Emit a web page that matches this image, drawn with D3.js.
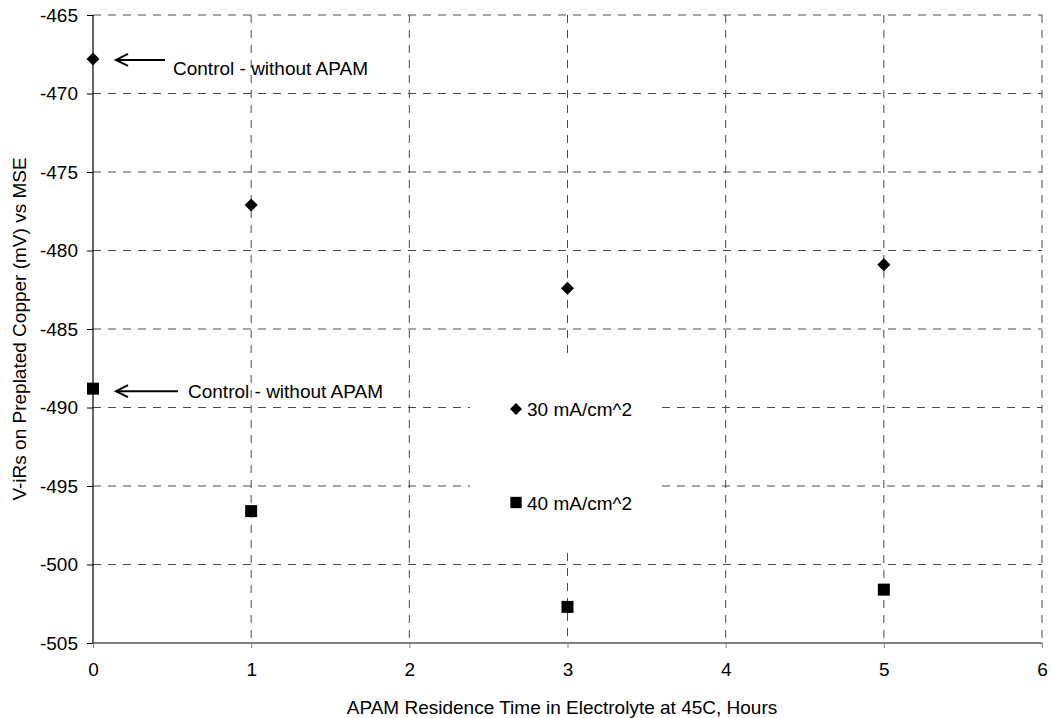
<!DOCTYPE html>
<html>
<head>
<meta charset="utf-8">
<script src="https://cdn.jsdelivr.net/npm/d3@7"></script>
<style>
  html, body { margin: 0; padding: 0; background: #fff; }
  svg { display: block; font-family: "Liberation Sans", Arial, sans-serif; }
</style>
</head>
<body>
<svg id="chart" width="1051" height="718"></svg>
<script>
// Residence time (hours) and measured potentials
const hours = [0, 1, 3, 5];
const series30 = [-467.8, -477.1, -482.4, -480.9];
const series40 = [-488.8, -496.6, -502.7, -501.6];
const seriesNames = ["30 mA/cm^2", "40 mA/cm^2"];
const xTicks = [0, 1, 2, 3, 4, 5, 6];
const yTicks = [-465, -470, -475, -480, -485, -490, -495, -500, -505];
const annotationText = "Control - without APAM";

const svg = d3.select("#chart");
const W = 1051, H = 718;
const m = { left: 93, right: W - 1042, top: 15, bottom: H - 643 };
const FS = 19;

const x = d3.scaleLinear().domain([0, 6]).range([m.left, W - m.right]);
const y = d3.scaleLinear().domain([-505, -465]).range([H - m.bottom, m.top]);

const gridColor = "#4a4a4a";
const dash = "8,7";

// white legend panel; grid lines stop at its edges
const legendBox = { x0: 470, x1: 662, y0: 360, y1: 553 };

// horizontal grid lines
const gGrid = svg.append("g");
yTicks.filter(v => v !== -505).forEach(v => {
  const yy = y(v);
  const inLegend = yy > legendBox.y0 && yy < legendBox.y1;
  const segs = inLegend ? [[x(0), legendBox.x0], [legendBox.x1, x(6)]] : [[x(0), x(6)]];
  segs.forEach(s => gGrid.append("line")
    .attr("x1", s[0]).attr("x2", s[1]).attr("y1", yy).attr("y2", yy)
    .attr("stroke", gridColor).attr("stroke-width", 1).attr("stroke-dasharray", dash));
});
// vertical grid lines
xTicks.filter(v => v !== 0).forEach(v => {
  const xx = x(v);
  const inLegend = xx > legendBox.x0 && xx < legendBox.x1;
  const segs = inLegend ? [[y(-465), legendBox.y0], [legendBox.y1, y(-505)]] : [[y(-465), y(-505)]];
  segs.forEach(s => gGrid.append("line")
    .attr("x1", xx).attr("x2", xx).attr("y1", s[0]).attr("y2", s[1])
    .attr("stroke", gridColor).attr("stroke-width", 1).attr("stroke-dasharray", dash));
});

const fmt = d => String(d);

// x axis (bottom, gray)
const xAxis = svg.append("g")
  .attr("transform", `translate(0,${y(-505)})`)
  .call(d3.axisBottom(x).tickValues(xTicks).tickSize(5).tickPadding(15).tickFormat(fmt));
xAxis.select(".domain").attr("stroke", "#808080").attr("stroke-width", 2).attr("d", `M${x(0)},0H${x(6)}`);
xAxis.selectAll(".tick line").attr("stroke", "#808080");
xAxis.selectAll("text").attr("font-size", FS).attr("fill", "#000")
  .attr("font-family", "Liberation Sans, Arial, sans-serif");

// y axis (left, black)
const yAxis = svg.append("g")
  .attr("transform", `translate(${x(0)},0)`)
  .call(d3.axisLeft(y).tickValues(yTicks).tickSize(6).tickPadding(9).tickFormat(fmt));
yAxis.select(".domain").attr("stroke", "#000").attr("stroke-width", 1.2).attr("d", `M0,${y(-505)}V${y(-465)}`);
yAxis.selectAll(".tick line").attr("stroke", "#000");
yAxis.selectAll("text").attr("font-size", FS).attr("fill", "#000")
  .attr("font-family", "Liberation Sans, Arial, sans-serif");

// axis titles
svg.append("text")
  .attr("x", 562).attr("y", 714)
  .attr("text-anchor", "middle").attr("font-size", FS)
  .text("APAM Residence Time in Electrolyte at 45C, Hours");
svg.append("text")
  .attr("transform", `translate(26,${(y(-465) + y(-505)) / 2}) rotate(-90)`)
  .attr("text-anchor", "middle").attr("font-size", FS)
  .text("V-iRs on Preplated Copper (mV) vs MSE");

// legend background
svg.append("rect")
  .attr("x", legendBox.x0).attr("y", legendBox.y0)
  .attr("width", legendBox.x1 - legendBox.x0).attr("height", legendBox.y1 - legendBox.y0)
  .attr("fill", "#fff");

const diamond = d3.symbol().type(d3.symbolDiamond2).size(108);
const square = d3.symbol().type(d3.symbolSquare).size(144);

// data markers
svg.append("g").selectAll("path").data(hours.map((h, i) => [h, series30[i]]))
  .join("path").attr("d", diamond)
  .attr("transform", d => `translate(${x(d[0])},${y(d[1])})`)
  .attr("fill", "#000");
svg.append("g").selectAll("path").data(hours.map((h, i) => [h, series40[i]]))
  .join("path").attr("d", square)
  .attr("transform", d => `translate(${x(d[0])},${y(d[1])})`)
  .attr("fill", "#000");

// legend entries
const legendItems = [
  { name: seriesNames[0], sym: d3.symbol().type(d3.symbolDiamond2).size(92), yy: 409 },
  { name: seriesNames[1], sym: d3.symbol().type(d3.symbolSquare).size(128), yy: 502.5 }
];
legendItems.forEach(it => {
  svg.append("path").attr("d", it.sym).attr("transform", `translate(516,${it.yy})`).attr("fill", "#000");
  svg.append("text").attr("x", 527).attr("y", it.yy + 7).attr("font-size", FS).text(it.name);
});

// control annotations with arrows
const notes = [
  { v: series30[0], dy: 1, x1: 165, tx: 173, ty: 75 },
  { v: series40[0], dy: 2.5, x1: 178, tx: 188, ty: 398 }
];
notes.forEach(n => {
  const yy = y(n.v) + n.dy;
  const x0 = 116;
  const g = svg.append("g").attr("stroke", "#000").attr("stroke-width", 2).attr("fill", "none");
  g.append("line").attr("x1", x0).attr("x2", n.x1).attr("y1", yy).attr("y2", yy);
  g.append("path").attr("d", `M${x0 + 12},${yy - 6}L${x0},${yy}L${x0 + 12},${yy + 6}`);
  svg.append("text").attr("x", n.tx).attr("y", n.ty).attr("font-size", FS).text(annotationText);
});
</script>
</body>
</html>
